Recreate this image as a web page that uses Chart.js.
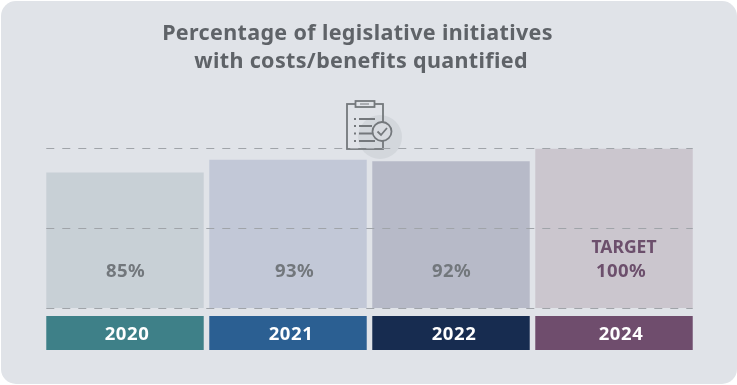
<!DOCTYPE html>
<html>
<head>
<meta charset="utf-8">
<style>
  html, body { margin: 0; padding: 0; background: #fff; width: 737px; height: 385px; overflow: hidden; }
  #panel { position: absolute; left: 1px; top: 1px; width: 736px; height: 383px; background: #e0e3e8; border-radius: 15px; }
  #wrap { position: absolute; left: 0; top: 0; width: 737px; height: 385px; }
</style>
<script src="https://cdn.jsdelivr.net/npm/chart.js@4/dist/chart.umd.min.js"></script>
</head>
<body>
<div id="panel"></div>
<div id="wrap"><canvas id="chart" width="737" height="385"></canvas></div>
<script>
const years = ['2020', '2021', '2022', '2024'];
const shares = [85, 93, 92, 100];
const notes = ['', '', '', 'TARGET'];
const barColors = ['#c8d0d6', '#c2c8d7', '#b7bac8', '#cbc6ce'];
const stripColors = ['#3e8088', '#2b5f92', '#172c50', '#6f4d6d'];
const labelColors = ['#72777c', '#72777c', '#72777c', '#6c4f6c'];
const referenceLevels = [0, 50, 100];
const stripBand = [-26.25, -5];
const labelLevel = 23;
const titleLines = ['Percentage of legislative initiatives', 'with costs/benefits quantified'];

const FONT = '"Noto Sans", sans-serif';

// Hand-set nudges for the text inside each column
const valueNudge = [0.5, 6.5, 0.5, 7];
const yearNudge = [2, 3, 3, 7];

// Two-line heading, slightly left of the plot centre
const heading = {
  id: 'heading',
  afterDraw(chart) {
    const { ctx } = chart;
    ctx.save();
    ctx.textAlign = 'center';
    ctx.textBaseline = 'middle';
    ctx.fillStyle = '#5f6368';
    ctx.font = `bold 21.5px ${FONT}`;
    ctx.letterSpacing = '0.35px';
    ctx.fillText(titleLines[0], 357.5, 34);
    ctx.fillText(titleLines[1], 361, 62);
    ctx.restore();
  }
};

// Dashed reference lines across the full width of the bars
const referenceLines = {
  id: 'referenceLines',
  afterDatasetsDraw(chart) {
    const { ctx, scales: { y } } = chart;
    const bars = chart.getDatasetMeta(0).data;
    const left = bars[0].x - bars[0].width / 2;
    const right = bars[bars.length - 1].x + bars[bars.length - 1].width / 2;
    ctx.save();
    ctx.strokeStyle = '#a0a4a9';
    ctx.lineWidth = 1.2;
    ctx.setLineDash([8, 8]);
    referenceLevels.forEach(level => {
      const py = Math.floor(y.getPixelForValue(level)) + 0.5;
      ctx.beginPath();
      ctx.moveTo(left, py);
      ctx.lineTo(right, py);
      ctx.stroke();
    });
    ctx.restore();
  }
};

// Clipboard pictogram above the plot
const clipboardIcon = {
  id: 'clipboardIcon',
  beforeDatasetsDraw(chart) {
    const { ctx } = chart;
    ctx.save();
    ctx.fillStyle = '#d3d7dc';
    ctx.beginPath();
    ctx.arc(380, 137, 22, 0, Math.PI * 2);
    ctx.fill();
    ctx.restore();
  },
  afterDatasetsDraw(chart) {
    const { ctx } = chart;
    ctx.save();
    ctx.strokeStyle = '#74787c';
    ctx.lineWidth = 1.8;
    ctx.strokeRect(347, 104, 36, 45);
    ctx.fillStyle = '#e0e3e8';
    ctx.fillRect(355.5, 101, 19, 6);
    ctx.strokeRect(355.5, 101, 19, 6);
    ctx.lineWidth = 1;
    ctx.beginPath();
    ctx.moveTo(360, 104);
    ctx.lineTo(369, 104);
    ctx.stroke();
    ctx.lineWidth = 1.8;
    [[119, 375], [126, 372], [133.5, 372], [141, 375]].forEach(([ly, end]) => {
      ctx.beginPath();
      ctx.moveTo(354, ly);
      ctx.lineTo(356, ly);
      ctx.moveTo(359, ly);
      ctx.lineTo(end, ly);
      ctx.stroke();
    });
    ctx.beginPath();
    ctx.arc(382, 131.5, 9.5, 0, Math.PI * 2);
    ctx.fillStyle = '#d8dbe0';
    ctx.fill();
    ctx.stroke();
    ctx.beginPath();
    ctx.moveTo(377.5, 131.5);
    ctx.lineTo(381, 135);
    ctx.lineTo(387, 128);
    ctx.stroke();
    ctx.restore();
  }
};

// Percentage text inside the bars and year text inside the strips
const barText = {
  id: 'barText',
  afterDatasetsDraw(chart) {
    const { ctx, scales: { y } } = chart;
    const bars = chart.getDatasetMeta(0).data;
    const labelY = y.getPixelForValue(labelLevel);
    const stripY = y.getPixelForValue((stripBand[0] + stripBand[1]) / 2) + 2;
    ctx.save();
    ctx.textAlign = 'center';
    ctx.textBaseline = 'middle';
    bars.forEach((bar, i) => {
      ctx.font = `bold 18.5px ${FONT}`;
      ctx.letterSpacing = '0.4px';
      ctx.fillStyle = labelColors[i];
      ctx.fillText(shares[i] + '%', bar.x + valueNudge[i], labelY);
      if (notes[i]) {
        ctx.font = `bold 17.5px ${FONT}`;
        ctx.letterSpacing = '0px';
        ctx.fillText(notes[i], bar.x + 10, labelY - 23.5);
      }
      ctx.font = `bold 18.5px ${FONT}`;
      ctx.letterSpacing = '0.6px';
      ctx.fillStyle = '#ffffff';
      ctx.fillText(years[i], bar.x + yearNudge[i], stripY);
    });
    ctx.restore();
  }
};

new Chart(document.getElementById('chart'), {
  type: 'bar',
  data: {
    labels: years,
    datasets: [
      { label: 'Share', data: shares, backgroundColor: barColors, borderWidth: 0 },
      { label: 'Year', data: years.map(() => stripBand), backgroundColor: stripColors, borderWidth: 0 }
    ]
  },
  options: {
    responsive: false,
    animation: false,
    events: [],
    layout: { padding: { left: 43.5, right: 41.5, top: 148.5, bottom: 35 } },
    datasets: { bar: { grouped: false, categoryPercentage: 1, barPercentage: 0.966 } },
    scales: {
      x: { display: false, grid: { display: false } },
      y: { display: false, min: stripBand[0], max: 100, grid: { display: false } }
    },
    plugins: {
      legend: { display: false },
      tooltip: { enabled: false },
      title: { display: false }
    }
  },
  plugins: [clipboardIcon, referenceLines, barText, heading]
});
</script>
</body>
</html>
